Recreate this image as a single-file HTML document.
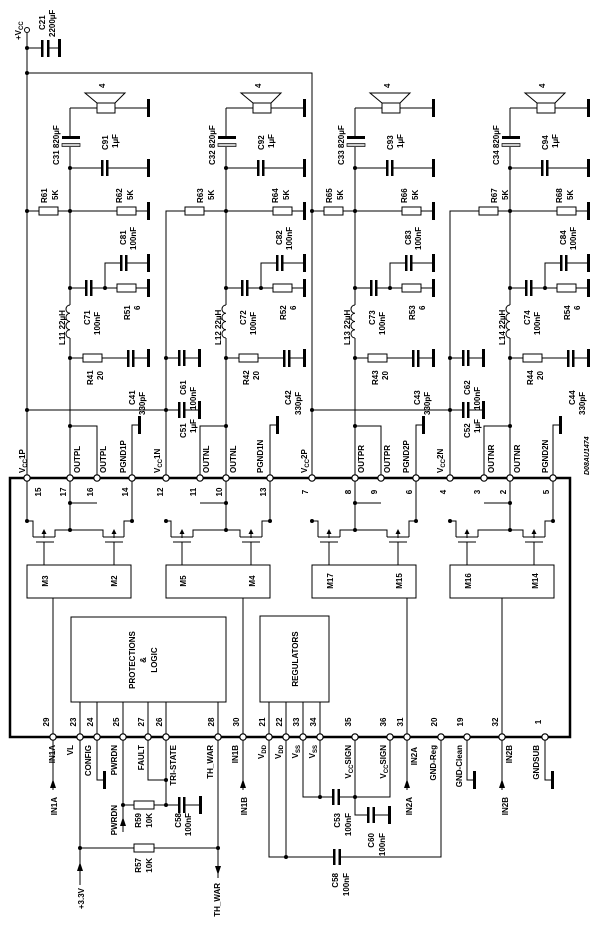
<!DOCTYPE html>
<html><head><meta charset="utf-8"><style>
html,body{margin:0;padding:0;background:#fff;}
svg{display:block;}
text{font-family:"Liberation Sans",sans-serif;font-weight:bold;font-size:8px;fill:#000;}
.s{font-size:6px;}
</style></head><body>
<svg width="600" height="929" viewBox="0 0 600 929" xmlns="http://www.w3.org/2000/svg">
<defs>
<g id="gnd"><rect x="0" y="-9" width="3" height="18" fill="#000"/></g>
<g id="up" stroke="#000" stroke-width="1" fill="none">
  <path d="M0,108V137M0,147V305M0,338V426"/>
  <path d="M0,108H27"/>
  <rect x="27" y="103" width="18" height="10" fill="#fff"/>
  <polygon points="15,93 55,93 45,103 27,103" fill="#fff"/>
  <path d="M45,108H77"/>
  <use href="#gnd" x="77" y="108" stroke="none"/>
  <rect x="-8" y="136" width="18" height="3" fill="#000" stroke="none"/>
  <rect x="-8" y="143.5" width="18" height="3" fill="#ccc" stroke-width="0.7"/>
  <path d="M0,168H31M38,168H77"/>
  <rect x="31" y="160" width="2.5" height="16" fill="#000" stroke="none"/>
  <rect x="36" y="160" width="2.5" height="16" fill="#000" stroke="none"/>
  <use href="#gnd" x="77" y="168" stroke="none"/>
  <path d="M0,211H47M66,211H77"/>
  <rect x="47" y="207" width="19" height="8" fill="#fff"/>
  <use href="#gnd" x="77" y="211" stroke="none"/>
  <path d="M0,288H16M22,288H47M35,288V263H50M56,263H77M66,288H77"/>
  <rect x="15" y="280" width="2.5" height="16" fill="#000" stroke="none"/>
  <rect x="20" y="280" width="2.5" height="16" fill="#000" stroke="none"/>
  <rect x="50" y="255" width="2.5" height="16" fill="#000" stroke="none"/>
  <rect x="55" y="255" width="2.5" height="16" fill="#000" stroke="none"/>
  <use href="#gnd" x="77" y="263" stroke="none"/>
  <rect x="47" y="284" width="19" height="8" fill="#fff"/>
  <use href="#gnd" x="77" y="288" stroke="none"/>
  <path d="M0,305a4,4.1 0 0 0 0,8.25a4,4.1 0 0 0 0,8.25a4,4.1 0 0 0 0,8.25a4,4.1 0 0 0 0,8.25"/>
  <path d="M0,358H13M32,358H57M64,358H77"/>
  <rect x="13" y="354" width="19" height="8" fill="#fff"/>
  <rect x="57" y="350" width="2.5" height="17" fill="#000" stroke="none"/>
  <rect x="62" y="350" width="2.5" height="17" fill="#000" stroke="none"/>
  <use href="#gnd" x="77" y="358" stroke="none"/>
  <g fill="#000" stroke="none">
   <circle cx="0" cy="168" r="2"/><circle cx="0" cy="211" r="2"/><circle cx="0" cy="288" r="2"/>
   <circle cx="35" cy="288" r="2"/><circle cx="0" cy="358" r="2"/><circle cx="0" cy="426" r="2"/>
  </g>
</g>
<g id="vcap" stroke="#000" fill="none">
  <path d="M0,0H12M19,0H32"/>
  <rect x="12" y="-8" width="2.5" height="16" fill="#000" stroke="none"/>
  <rect x="17" y="-8" width="2.5" height="16" fill="#000" stroke="none"/>
  <use href="#gnd" x="32" y="0" stroke="none"/>
</g>
</defs>

<!-- Top supply -->
<g stroke="#000" fill="none" stroke-width="1">
  <circle cx="27" cy="30" r="2.5" fill="#fff"/>
  <path d="M27,33V478M27,48H41M49,48H58M27,73H312V478"/>
  <path d="M27,211H39M58,211H70"/><rect x="39" y="207" width="19" height="8" fill="#fff"/>
  <path d="M166,478V211H185M204,211H226"/><rect x="185" y="207" width="19" height="8" fill="#fff"/>
  <path d="M312,211H324M343,211H355"/><rect x="324" y="207" width="19" height="8" fill="#fff"/>
  <path d="M450,478V211H479M498,211H510"/><rect x="479" y="207" width="19" height="8" fill="#fff"/>
  <path d="M27,410H166M312,410H450"/>
</g>
<rect x="41" y="40" width="2.5" height="17" fill="#000"/>
<rect x="47" y="40" width="2.5" height="17" fill="#000"/>
<use href="#gnd" x="58" y="48"/>
<g fill="#000"><circle cx="27" cy="48" r="2"/><circle cx="27" cy="73" r="2"/><circle cx="27" cy="211" r="2"/><circle cx="312" cy="211" r="2"/>
<circle cx="27" cy="410" r="2"/><circle cx="166" cy="410" r="2"/><circle cx="312" cy="410" r="2"/><circle cx="450" cy="410" r="2"/>
<circle cx="166" cy="358" r="2"/><circle cx="450" cy="358" r="2"/></g>
<use href="#vcap" x="166" y="358"/><use href="#vcap" x="166" y="410"/>
<use href="#vcap" x="450" y="358"/><use href="#vcap" x="450" y="410"/>
<text transform="translate(21,40) rotate(-90)">+V<tspan class="s" dy="2">CC</tspan></text>
<text transform="translate(45,30) rotate(-90)">C21</text>
<text transform="translate(55,37) rotate(-90)">2200µF</text>
<text transform="translate(47,203) rotate(-90)">R61</text><text transform="translate(58,200) rotate(-90)">5K</text>
<text transform="translate(203,203) rotate(-90)">R63</text><text transform="translate(214,200) rotate(-90)">5K</text>
<text transform="translate(332,203) rotate(-90)">R65</text><text transform="translate(343,200) rotate(-90)">5K</text>
<text transform="translate(497,203) rotate(-90)">R67</text><text transform="translate(508,200) rotate(-90)">5K</text>
<text transform="translate(186,395) rotate(-90)">C61</text><text transform="translate(196,410) rotate(-90)">100nF</text>
<text transform="translate(186,438) rotate(-90)">C51</text><text transform="translate(196,433) rotate(-90)">1µF</text>
<text transform="translate(470,395) rotate(-90)">C62</text><text transform="translate(480,410) rotate(-90)">100nF</text>
<text transform="translate(470,438) rotate(-90)">C52</text><text transform="translate(480,433) rotate(-90)">1µF</text>

<!-- Channels -->
<g transform="translate(70,0)"><use href="#up"/>
<text transform="translate(-11,165) rotate(-90)">C31 820µF</text>
<text transform="translate(38,150) rotate(-90)">C91</text><text transform="translate(48,148) rotate(-90)">1µF</text>
<text transform="translate(52,203) rotate(-90)">R62</text><text transform="translate(63,200) rotate(-90)">5K</text>
<text transform="translate(56,245) rotate(-90)">C81</text><text transform="translate(66,250) rotate(-90)">100nF</text>
<text transform="translate(20,325) rotate(-90)">C71</text><text transform="translate(30,335) rotate(-90)">100nF</text>
<text transform="translate(60,320) rotate(-90)">R51</text><text transform="translate(70,310) rotate(-90)">6</text>
<text transform="translate(-5,345) rotate(-90)">L11 22µH</text>
<text transform="translate(23,385) rotate(-90)">R41</text><text transform="translate(33,380) rotate(-90)">20</text>
<text transform="translate(65,405) rotate(-90)">C41</text><text transform="translate(75,415) rotate(-90)">330pF</text>
<text transform="translate(35,88) rotate(-90)">4</text>
</g>
<g transform="translate(226,0)"><use href="#up"/>
<text transform="translate(-11,165) rotate(-90)">C32 820µF</text>
<text transform="translate(38,150) rotate(-90)">C92</text><text transform="translate(48,148) rotate(-90)">1µF</text>
<text transform="translate(52,203) rotate(-90)">R64</text><text transform="translate(63,200) rotate(-90)">5K</text>
<text transform="translate(56,245) rotate(-90)">C82</text><text transform="translate(66,250) rotate(-90)">100nF</text>
<text transform="translate(20,325) rotate(-90)">C72</text><text transform="translate(30,335) rotate(-90)">100nF</text>
<text transform="translate(60,320) rotate(-90)">R52</text><text transform="translate(70,310) rotate(-90)">6</text>
<text transform="translate(-5,345) rotate(-90)">L12 22µH</text>
<text transform="translate(23,385) rotate(-90)">R42</text><text transform="translate(33,380) rotate(-90)">20</text>
<text transform="translate(65,405) rotate(-90)">C42</text><text transform="translate(75,415) rotate(-90)">330pF</text>
<text transform="translate(35,88) rotate(-90)">4</text>
</g>
<g transform="translate(355,0)"><use href="#up"/>
<text transform="translate(-11,165) rotate(-90)">C33 820µF</text>
<text transform="translate(38,150) rotate(-90)">C93</text><text transform="translate(48,148) rotate(-90)">1µF</text>
<text transform="translate(52,203) rotate(-90)">R66</text><text transform="translate(63,200) rotate(-90)">5K</text>
<text transform="translate(56,245) rotate(-90)">C83</text><text transform="translate(66,250) rotate(-90)">100nF</text>
<text transform="translate(20,325) rotate(-90)">C73</text><text transform="translate(30,335) rotate(-90)">100nF</text>
<text transform="translate(60,320) rotate(-90)">R53</text><text transform="translate(70,310) rotate(-90)">6</text>
<text transform="translate(-5,345) rotate(-90)">L13 22µH</text>
<text transform="translate(23,385) rotate(-90)">R43</text><text transform="translate(33,380) rotate(-90)">20</text>
<text transform="translate(65,405) rotate(-90)">C43</text><text transform="translate(75,415) rotate(-90)">330pF</text>
<text transform="translate(35,88) rotate(-90)">4</text>
</g>
<g transform="translate(510,0)"><use href="#up"/>
<text transform="translate(-11,165) rotate(-90)">C34 820µF</text>
<text transform="translate(38,150) rotate(-90)">C94</text><text transform="translate(48,148) rotate(-90)">1µF</text>
<text transform="translate(52,203) rotate(-90)">R68</text><text transform="translate(63,200) rotate(-90)">5K</text>
<text transform="translate(56,245) rotate(-90)">C84</text><text transform="translate(66,250) rotate(-90)">100nF</text>
<text transform="translate(20,325) rotate(-90)">C74</text><text transform="translate(30,335) rotate(-90)">100nF</text>
<text transform="translate(60,320) rotate(-90)">R54</text><text transform="translate(70,310) rotate(-90)">6</text>
<text transform="translate(-5,345) rotate(-90)">L14 22µH</text>
<text transform="translate(23,385) rotate(-90)">R44</text><text transform="translate(33,380) rotate(-90)">20</text>
<text transform="translate(65,405) rotate(-90)">C44</text><text transform="translate(75,415) rotate(-90)">330pF</text>
<text transform="translate(35,88) rotate(-90)">4</text>
</g>

<!-- Top pin wiring -->
<g stroke="#000" fill="none">
  <path d="M70,426H97V478M70,426V530M97,503H70"/>
  <path d="M226,426H200V478M226,426V530M200,503H226"/>
  <path d="M355,426H381V478M355,426V530M381,503H355"/>
  <path d="M510,426H484V478M510,426V530M484,503H510"/>
  <path d="M132,478V425H138M270,478V425H276M416,478V425H422M553,478V425H559"/>
</g>
<use href="#gnd" x="138" y="425"/><use href="#gnd" x="276" y="425"/><use href="#gnd" x="422" y="425"/><use href="#gnd" x="559" y="425"/>

<!-- Transistors -->
<g stroke="#000" fill="none">
 <!-- ch1 -->
 <path d="M27,521H33V537M55,537V530H70M70,530H103V537M124,537V521H132"/>
 <path d="M33,537H55M36,542H54M44,542V565M44,538V531M103,537H124M105,542H123M114,542V565M114,538V531"/>
 <!-- ch2 -->
 <path d="M166,521H171V537M193,537V530H226M226,530H240V537M262,537V521H270"/>
 <path d="M171,537H193M173,542H191M182,542V565M182,538V531M240,537H262M242,542H260M251,542V565M251,538V531"/>
 <!-- ch3 -->
 <path d="M312,521H318V537M340,537V530H355M355,530H387V537M409,537V521H416"/>
 <path d="M318,537H340M320,542H338M329,542V565M329,538V531M387,537H409M389,542H407M398,542V565M398,538V531"/>
 <!-- ch4 -->
 <path d="M450,521H456V537M478,537V530H510M510,530H523V537M545,537V521H553"/>
 <path d="M456,537H478M458,542H476M467,542V565M467,538V531M523,537H545M525,542H543M534,542V565M534,538V531"/>
 <path d="M27,478V521M132,478V521M416,478V521M553,478V521M270,478V521"/>
 <!-- M boxes -->
 <rect x="27" y="565" width="104" height="33"/>
 <rect x="166" y="565" width="104" height="33"/>
 <rect x="312" y="565" width="104" height="33"/>
 <rect x="450" y="565" width="104" height="33"/>
 <path d="M53,598V737M243,598V737M407,598V737M502,598V737"/>
 <rect x="71" y="617" width="155" height="85"/>
 <rect x="260" y="616" width="69" height="86"/>
 <path d="M80,702V737M97,702V737M123,702V737M148,702V737M166,702V737M218,702V737"/>
 <path d="M269,702V737M286,702V737M303,702V737M320,702V737"/>
</g>
<g fill="#000">
 <polygon points="41.5,534 46.5,534 44,529"/><polygon points="111.5,534 116.5,534 114,529"/>
 <polygon points="179.5,534 184.5,534 182,529"/><polygon points="248.5,534 253.5,534 251,529"/>
 <polygon points="326.5,534 331.5,534 329,529"/><polygon points="395.5,534 400.5,534 398,529"/>
 <polygon points="464.5,534 469.5,534 467,529"/><polygon points="531.5,534 536.5,534 534,529"/>
 <circle cx="27" cy="521" r="2"/><circle cx="132" cy="521" r="2"/><circle cx="70" cy="503" r="2"/><circle cx="70" cy="530" r="2"/>
 <circle cx="166" cy="521" r="2"/><circle cx="270" cy="521" r="2"/><circle cx="226" cy="503" r="2"/><circle cx="226" cy="530" r="2"/>
 <circle cx="312" cy="521" r="2"/><circle cx="416" cy="521" r="2"/><circle cx="355" cy="503" r="2"/><circle cx="355" cy="530" r="2"/>
 <circle cx="450" cy="521" r="2"/><circle cx="553" cy="521" r="2"/><circle cx="510" cy="503" r="2"/><circle cx="510" cy="530" r="2"/>
</g>
<text transform="translate(48,581) rotate(-90)" text-anchor="middle">M3</text>
<text transform="translate(117,581) rotate(-90)" text-anchor="middle">M2</text>
<text transform="translate(186,581) rotate(-90)" text-anchor="middle">M5</text>
<text transform="translate(255,581) rotate(-90)" text-anchor="middle">M4</text>
<text transform="translate(333,581) rotate(-90)" text-anchor="middle">M17</text>
<text transform="translate(402,581) rotate(-90)" text-anchor="middle">M15</text>
<text transform="translate(471,581) rotate(-90)" text-anchor="middle">M16</text>
<text transform="translate(538,581) rotate(-90)" text-anchor="middle">M14</text>
<text transform="translate(135,660) rotate(-90)" text-anchor="middle">PROTECTIONS</text>
<text transform="translate(146,660) rotate(-90)" text-anchor="middle">&amp;</text>
<text transform="translate(157,660) rotate(-90)" text-anchor="middle">LOGIC</text>
<text transform="translate(298,659) rotate(-90)" text-anchor="middle">REGULATORS</text>

<!-- Main IC box -->
<rect x="10" y="478" width="560" height="259" fill="none" stroke="#000" stroke-width="2.5"/>

<!-- Bottom wiring -->
<g stroke="#000" fill="none">
 <path d="M53,737V790M243,737V790M407,737V790M502,737V790"/>
 <path d="M80,737V885M80,848H134M154,848H218M218,737V878"/>
 <rect x="134" y="844" width="20" height="8" fill="#fff"/>
 <path d="M97,737V780H103M148,737V780H166M166,737V805H178M184,805H199M123,737V832M123,805H134M154,805H166"/>
 <rect x="134" y="801" width="20" height="8" fill="#fff"/>
 <path d="M269,737V857H334M341,857H441V737M286,737V857"/>
 <path d="M303,737V797H333M340,797H390V737M320,737V797M355,737V815H368M375,815H388"/>
 <path d="M467,737V780H473M545,737V780H551"/>
</g>
<g fill="#000">
 <rect x="178" y="797" width="2.5" height="16"/><rect x="183" y="797" width="2.5" height="16"/>
 <rect x="333" y="849" width="2.5" height="16"/><rect x="338.5" y="849" width="2.5" height="16"/>
 <rect x="332" y="789" width="2.5" height="16"/><rect x="337.5" y="789" width="2.5" height="16"/>
 <rect x="367" y="807" width="2.5" height="16"/><rect x="372.5" y="807" width="2.5" height="16"/>
 <use href="#gnd" x="103" y="780"/><use href="#gnd" x="199" y="805"/><use href="#gnd" x="388" y="815"/>
 <use href="#gnd" x="473" y="780"/><use href="#gnd" x="551" y="780"/>
 <polygon points="50,788 56,788 53,779"/><polygon points="240,788 246,788 243,779"/>
 <polygon points="404,788 410,788 407,779"/><polygon points="499,788 505,788 502,779"/>
 <polygon points="77,871 83,871 80,862"/><polygon points="120,826 126,826 123,817"/>
 <polygon points="215,866 221,866 218,875"/>
 <circle cx="80" cy="848" r="2"/><circle cx="218" cy="848" r="2"/><circle cx="123" cy="805" r="2"/><circle cx="166" cy="805" r="2"/>
 <circle cx="166" cy="780" r="2"/><circle cx="286" cy="857" r="2"/><circle cx="320" cy="797" r="2"/><circle cx="355" cy="797" r="2"/>
</g>

<!-- Pin circles -->
<g fill="#fff" stroke="#000" stroke-width="1.2">
 <circle cx="27" cy="478" r="3.2"/><circle cx="70" cy="478" r="3.2"/><circle cx="97" cy="478" r="3.2"/><circle cx="132" cy="478" r="3.2"/>
 <circle cx="166" cy="478" r="3.2"/><circle cx="200" cy="478" r="3.2"/><circle cx="226" cy="478" r="3.2"/><circle cx="270" cy="478" r="3.2"/>
 <circle cx="312" cy="478" r="3.2"/><circle cx="355" cy="478" r="3.2"/><circle cx="381" cy="478" r="3.2"/><circle cx="416" cy="478" r="3.2"/>
 <circle cx="450" cy="478" r="3.2"/><circle cx="484" cy="478" r="3.2"/><circle cx="510" cy="478" r="3.2"/><circle cx="553" cy="478" r="3.2"/>
 <circle cx="53" cy="737" r="3.2"/><circle cx="80" cy="737" r="3.2"/><circle cx="97" cy="737" r="3.2"/><circle cx="123" cy="737" r="3.2"/>
 <circle cx="148" cy="737" r="3.2"/><circle cx="166" cy="737" r="3.2"/><circle cx="218" cy="737" r="3.2"/><circle cx="243" cy="737" r="3.2"/>
 <circle cx="269" cy="737" r="3.2"/><circle cx="286" cy="737" r="3.2"/><circle cx="303" cy="737" r="3.2"/><circle cx="320" cy="737" r="3.2"/>
 <circle cx="355" cy="737" r="3.2"/><circle cx="390" cy="737" r="3.2"/><circle cx="407" cy="737" r="3.2"/><circle cx="441" cy="737" r="3.2"/>
 <circle cx="467" cy="737" r="3.2"/><circle cx="502" cy="737" r="3.2"/><circle cx="545" cy="737" r="3.2"/>
</g>

<!-- Top pin numbers -->
<g text-anchor="middle">
<text transform="translate(41,492) rotate(-90)">15</text><text transform="translate(66,492) rotate(-90)">17</text>
<text transform="translate(93,492) rotate(-90)">16</text><text transform="translate(128,492) rotate(-90)">14</text>
<text transform="translate(163,492) rotate(-90)">12</text><text transform="translate(196,492) rotate(-90)">11</text>
<text transform="translate(222,492) rotate(-90)">10</text><text transform="translate(266,492) rotate(-90)">13</text>
<text transform="translate(308,492) rotate(-90)">7</text><text transform="translate(351,492) rotate(-90)">8</text>
<text transform="translate(377,492) rotate(-90)">9</text><text transform="translate(412,492) rotate(-90)">6</text>
<text transform="translate(446,492) rotate(-90)">4</text><text transform="translate(480,492) rotate(-90)">3</text>
<text transform="translate(506,492) rotate(-90)">2</text><text transform="translate(549,492) rotate(-90)">5</text>
<!-- bottom pin numbers -->
<text transform="translate(49,722) rotate(-90)">29</text><text transform="translate(76,722) rotate(-90)">23</text>
<text transform="translate(93,722) rotate(-90)">24</text><text transform="translate(119,722) rotate(-90)">25</text>
<text transform="translate(144,722) rotate(-90)">27</text><text transform="translate(162,722) rotate(-90)">26</text>
<text transform="translate(214,722) rotate(-90)">28</text><text transform="translate(239,722) rotate(-90)">30</text>
<text transform="translate(265,722) rotate(-90)">21</text><text transform="translate(282,722) rotate(-90)">22</text>
<text transform="translate(299,722) rotate(-90)">33</text><text transform="translate(316,722) rotate(-90)">34</text>
<text transform="translate(351,722) rotate(-90)">35</text><text transform="translate(386,722) rotate(-90)">36</text>
<text transform="translate(403,722) rotate(-90)">31</text><text transform="translate(437,722) rotate(-90)">20</text>
<text transform="translate(463,722) rotate(-90)">19</text><text transform="translate(498,722) rotate(-90)">32</text>
<text transform="translate(541,722) rotate(-90)">1</text>
</g>

<!-- Top pin names -->
<text transform="translate(25,473) rotate(-90)">V<tspan class="s" dy="2">CC</tspan><tspan dy="-2">1P</tspan></text>
<text transform="translate(80,473) rotate(-90)">OUTPL</text>
<text transform="translate(106,473) rotate(-90)">OUTPL</text>
<text transform="translate(126,473) rotate(-90)">PGND1P</text>
<text transform="translate(160,473) rotate(-90)">V<tspan class="s" dy="2">CC</tspan><tspan dy="-2">1N</tspan></text>
<text transform="translate(209,473) rotate(-90)">OUTNL</text>
<text transform="translate(236,473) rotate(-90)">OUTNL</text>
<text transform="translate(263,473) rotate(-90)">PGND1N</text>
<text transform="translate(307,473) rotate(-90)">V<tspan class="s" dy="2">CC</tspan><tspan dy="-2">2P</tspan></text>
<text transform="translate(364,473) rotate(-90)">OUTPR</text>
<text transform="translate(390,473) rotate(-90)">OUTPR</text>
<text transform="translate(409,473) rotate(-90)">PGND2P</text>
<text transform="translate(443,473) rotate(-90)">V<tspan class="s" dy="2">CC</tspan><tspan dy="-2">2N</tspan></text>
<text transform="translate(494,473) rotate(-90)">OUTNR</text>
<text transform="translate(520,473) rotate(-90)">OUTNR</text>
<text transform="translate(548,473) rotate(-90)">PGND2N</text>
<text transform="translate(589,475) rotate(-90)" style="font-style:italic;font-size:7px">D08AU1474</text>

<!-- Bottom pin names -->
<g text-anchor="end">
<text transform="translate(55,745) rotate(-90)">IN1A</text>
<text transform="translate(73,745) rotate(-90)">VL</text>
<text transform="translate(91,745) rotate(-90)">CONFIG</text>
<text transform="translate(117,745) rotate(-90)">PWRDN</text>
<text transform="translate(144,745) rotate(-90)">FAULT</text>
<text transform="translate(176,745) rotate(-90)">TRI-STATE</text>
<text transform="translate(213,745) rotate(-90)">TH_WAR</text>
<text transform="translate(238,745) rotate(-90)">IN1B</text>
<text transform="translate(264,745) rotate(-90)">V<tspan class="s" dy="2">DD</tspan></text>
<text transform="translate(281,745) rotate(-90)">V<tspan class="s" dy="2">DD</tspan></text>
<text transform="translate(298,745) rotate(-90)">V<tspan class="s" dy="2">SS</tspan></text>
<text transform="translate(315,745) rotate(-90)">V<tspan class="s" dy="2">SS</tspan></text>
<text transform="translate(351,745) rotate(-90)">V<tspan class="s" dy="2">CC</tspan><tspan dy="-2">SIGN</tspan></text>
<text transform="translate(386,745) rotate(-90)">V<tspan class="s" dy="2">CC</tspan><tspan dy="-2">SIGN</tspan></text>
<text transform="translate(417,747) rotate(-90)">IN2A</text>
<text transform="translate(436,745) rotate(-90)">GND-Reg</text>
<text transform="translate(462,745) rotate(-90)">GND-Clean</text>
<text transform="translate(512,745) rotate(-90)">IN2B</text>
<text transform="translate(539,745) rotate(-90)">GNDSUB</text>

<text transform="translate(57,797) rotate(-90)">IN1A</text>
<text transform="translate(117,805) rotate(-90)">PWRDN</text>
<text transform="translate(141,813) rotate(-90)">R59</text>
<text transform="translate(152,813) rotate(-90)">10K</text>
<text transform="translate(181,813) rotate(-90)">C58</text>
<text transform="translate(191,813) rotate(-90)">100nF</text>
<text transform="translate(141,858) rotate(-90)">R57</text>
<text transform="translate(152,858) rotate(-90)">10K</text>
<text transform="translate(84,888) rotate(-90)">+3.3V</text>
<text transform="translate(220,883) rotate(-90)">TH_WAR</text>
<text transform="translate(247,797) rotate(-90)">IN1B</text>
<text transform="translate(340,813) rotate(-90)">C53</text>
<text transform="translate(351,813) rotate(-90)">100nF</text>
<text transform="translate(374,833) rotate(-90)">C60</text>
<text transform="translate(385,833) rotate(-90)">100nF</text>
<text transform="translate(338,873) rotate(-90)">C58</text>
<text transform="translate(349,873) rotate(-90)">100nF</text>
<text transform="translate(412,797) rotate(-90)">IN2A</text>
<text transform="translate(508,797) rotate(-90)">IN2B</text>
</g>
</svg>
</body></html>
